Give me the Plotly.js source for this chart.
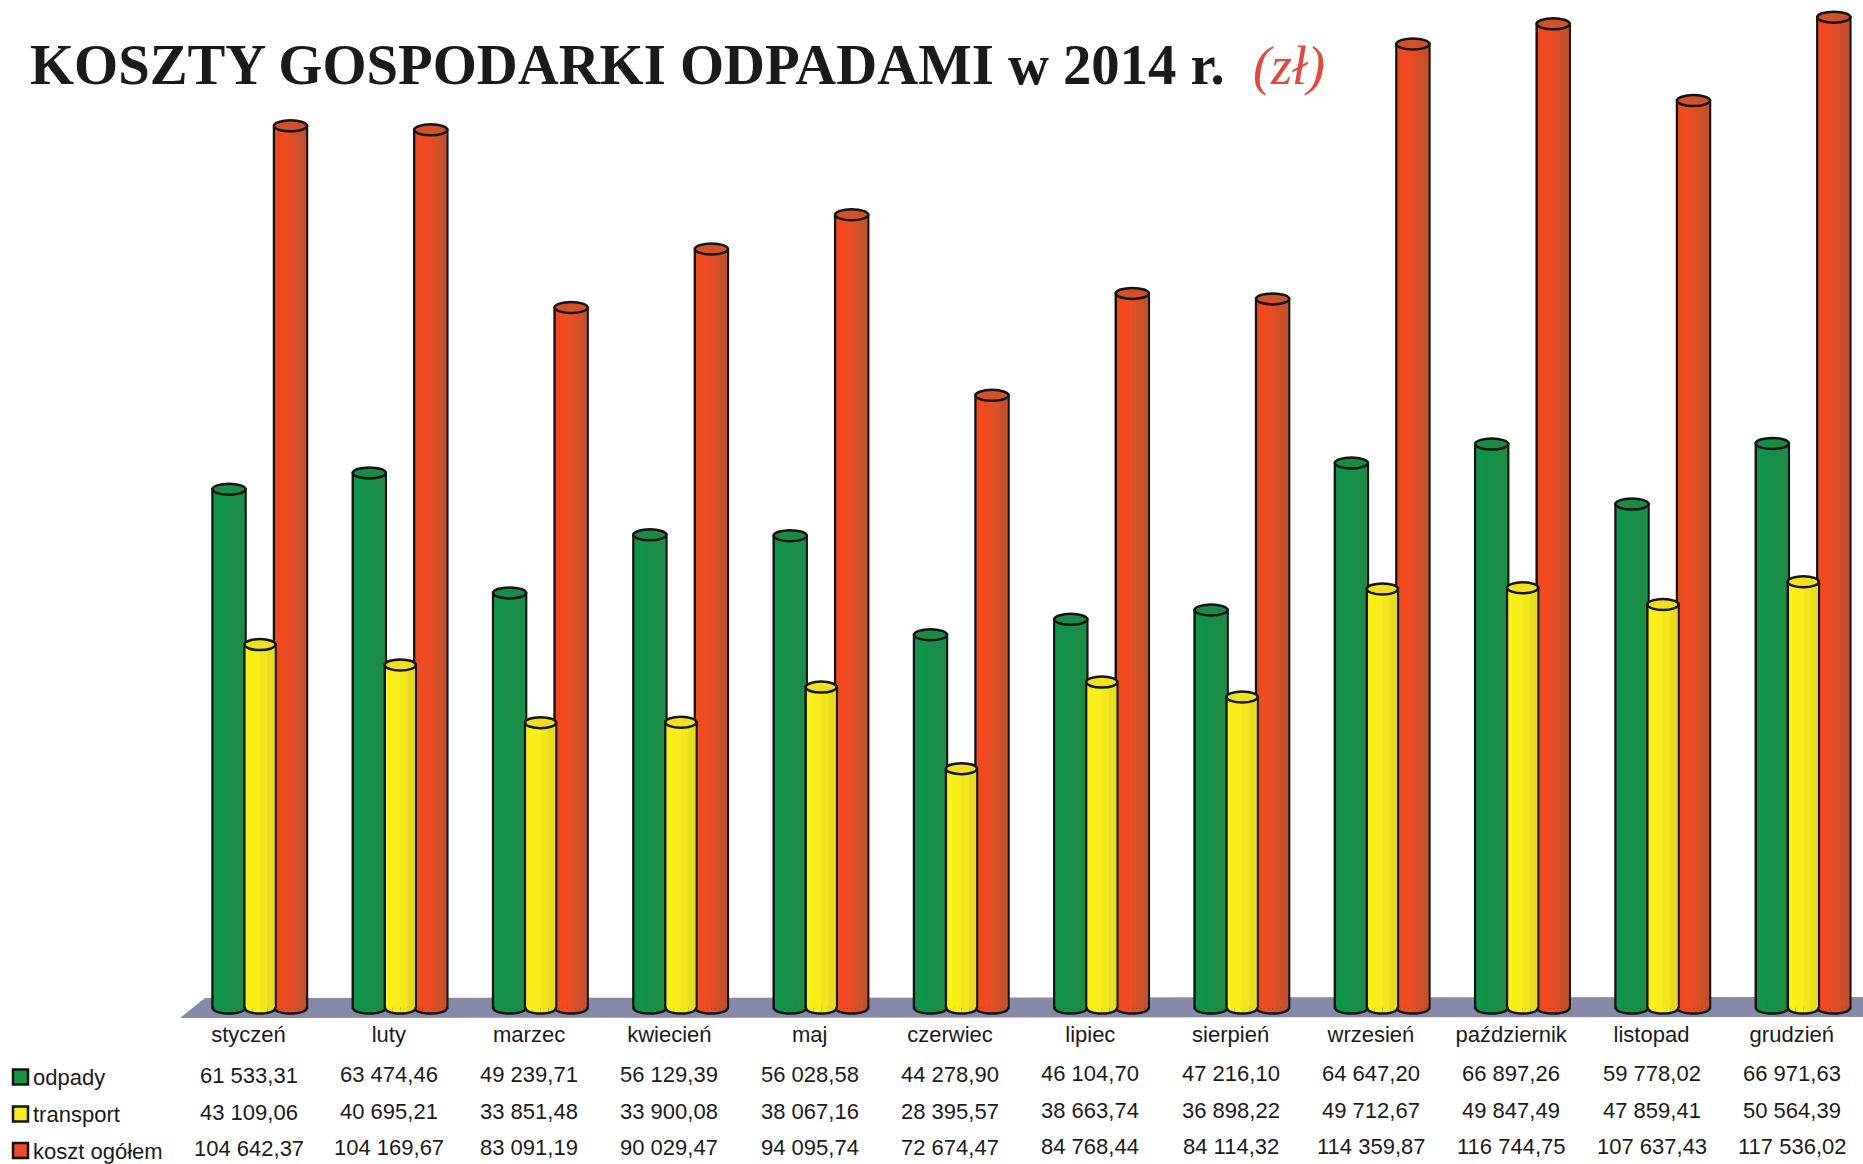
<!DOCTYPE html>
<html><head><meta charset="utf-8">
<script src="https://cdn.plot.ly/plotly-3.0.1.min.js"></script>
<style>html,body{margin:0;padding:0;background:#fff;overflow:hidden}</style>
</head><body><div id="chart" style="width:1863px;height:1164px"></div>
<script>
const months = ["styczeń","luty","marzec","kwiecień","maj","czerwiec","lipiec","sierpień","wrzesień","październik","listopad","grudzień"];
const odpady = [61533.31,63474.46,49239.71,56129.39,56028.58,44278.90,46104.70,47216.10,64647.20,66897.26,59778.02,66971.63];
const transport = [43109.06,40695.21,33851.48,33900.08,38067.16,28395.57,38663.74,36898.22,49712.67,49847.49,47859.41,50564.39];
const kosztOgolem = [104642.37,104169.67,83091.19,90029.47,94095.74,72674.47,84768.44,84114.32,114359.87,116744.75,107637.43,117536.02];
const seriesNames = ["odpady","transport","koszt ogółem"];

// geometry (pixels)
const W=1863,H=1164,plotBottom=1019,yBase=1008,pxPerUnit=8.43/1000,catStep=140.3,cat0=248.5;
const ux=p=>p/catStep, uy=p=>p/pxPerUnit;
const dx=p=>(p-cat0)/catStep, dy=p=>(yBase-p)/pxPerUnit, py=p=>(plotBottom-p)/plotBottom;
const ink="#141414";
const defs=[
 {name:seriesNames[0],v:odpady,off:-19.5,w:33,rim:"#1a8a44",base:"#14924a",shades:["#12934a","#169048","#1d8c46"]},
 {name:seriesNames[2],v:kosztOgolem,off:42,w:33,rim:"#d2512b",base:"#ef4a22",shades:["#f2481f","#f04a20","#ee4b22","#ea4c24","#e04e27","#d45029","#ca512b","#c2522d"]},
 {name:seriesNames[1],v:transport,off:11.5,w:31,rim:"#efe11f",base:"#f7ee1a",shades:["#f9f01a","#f8ee1b","#f2e71d","#e8dc20"]}
];
const traces=[],shapes=[];
// floor
shapes.push({type:"path",xref:"x",yref:"y",layer:"below",line:{width:0},fillcolor:"#8789a9",
 path:`M${dx(180)},${dy(1018)} L${dx(205)},${dy(998)} L${dx(1863)},${dy(997)} L${dx(1863)},${dy(1017)} Z`});
const RY=5.5;
defs.forEach(s=>{
 const c0=ux(s.off-s.w/2);
 traces.push({type:"bar",name:s.name,x:months,y:s.v,offset:c0,width:ux(s.w),marker:{color:s.base,line:{color:ink,width:2.5}},hoverinfo:"x+y+name",showlegend:false});
 const n=s.shades.length,inner=s.w-2.5,sw=inner/n;
 s.shades.forEach((col,j)=>{
  traces.push({type:"bar",x:months,y:s.v,offset:ux(s.off-inner/2+j*sw),width:ux(sw+0.4),marker:{color:col,line:{width:0}},hoverinfo:"skip",showlegend:false});
 });
 const rx=s.w/2;
 s.v.forEach((val,i)=>{
  const cx=i+ux(s.off);
  // rounded foot of the cylinder, strip by strip
  const depth=t=>uy(RY*Math.sqrt(Math.max(0,1-t*t)));
  s.shades.forEach((col,j)=>{
   const pts=[];
   for(let k=0;k<=4;k++){const t=-1+2*(j+k/4)/n;pts.push([cx+ux(t*rx),-depth(t)]);}
   shapes.push({type:"path",xref:"x",yref:"y",layer:"above",line:{width:0},fillcolor:col,
     path:`M${pts[0][0]},0 `+pts.map(p=>`L${p[0]},${p[1]}`).join(" ")+` L${pts[4][0]},0 Z`});
  });
  const arc=[];
  for(let k=0;k<=20;k++){const t=-1+2*k/20;arc.push((k?"L":"M")+(cx+ux(t*rx))+","+(-depth(t)));}
  shapes.push({type:"path",xref:"x",yref:"y",layer:"above",line:{color:ink,width:2.5},path:arc.join(" ")});
  // top ellipse
  shapes.push({type:"circle",xref:"x",yref:"y",layer:"above",fillcolor:s.rim,line:{color:ink,width:2.5},
    x0:cx-ux(rx),x1:cx+ux(rx),y0:val-uy(RY),y1:val+uy(RY)});
 });
});

const fmt=v=>{const [a,b]=v.toFixed(2).split(".");return a.replace(/\B(?=(\d{3})+$)/g," ")+","+b;};
const annotations=[];
const rows=[odpady,transport,kosztOgolem],rowY=[1075,1112,1148];
rows.forEach((r,ri)=>r.forEach((v,i)=>{
 annotations.push({xref:"x",yref:"paper",x:months[i],y:py(rowY[ri]-2*i/11),text:fmt(v),showarrow:false,xanchor:"center",yanchor:"middle",
   font:{family:"Liberation Sans",size:22,color:"#1a1a1a"}});
}));
const legendCol=["#1a9145","#f5ec1e","#ea4a30"],legendY=[1077,1114,1151],swatchY=[1077,1114,1150.5];
seriesNames.forEach((n,i)=>{
 annotations.push({xref:"paper",yref:"paper",x:31/W,y:py(legendY[i]),text:n,showarrow:false,xanchor:"left",yanchor:"middle",
   font:{family:"Liberation Sans",size:22,color:"#1a1a1a"}});
 shapes.push({type:"rect",xref:"paper",yref:"paper",layer:"above",fillcolor:legendCol[i],line:{color:ink,width:2.5},
   x0:13/W,x1:28/W,y0:py(swatchY[i]+7.5),y1:py(swatchY[i]-7.5)});
});

const layout={
 width:W,height:H,margin:{l:0,r:0,t:0,b:H-plotBottom,pad:0},
 paper_bgcolor:"#ffffff",plot_bgcolor:"rgba(0,0,0,0)",barmode:"overlay",showlegend:false,
 title:{text:'KOSZTY GOSPODARKI ODPADAMI w 2014 r.&#160;&#160;<span style="color:#e2483c;font-weight:normal;font-size:54px"><i>(zł)</i></span>',
   x:30/W,xref:"container",xanchor:"left",y:1-64/H,yref:"container",yanchor:"middle",
   font:{family:"Liberation Serif",size:56.7,weight:700,color:"#1a1a1a"}},
 xaxis:{type:"category",categoryorder:"array",categoryarray:months,range:[dx(0),dx(W)],showgrid:false,zeroline:false,showline:false,
   tickmode:"array",tickvals:months,ticktext:months,ticks:"",ticklabelstandoff:0,
   tickfont:{family:"Liberation Sans",size:22,color:"#1a1a1a"},fixedrange:true},
 yaxis:{range:[dy(plotBottom),dy(0)],visible:false,fixedrange:true},
 shapes,annotations
};
Plotly.newPlot("chart",traces,layout,{displayModeBar:false,staticPlot:false});
</script></body></html>
